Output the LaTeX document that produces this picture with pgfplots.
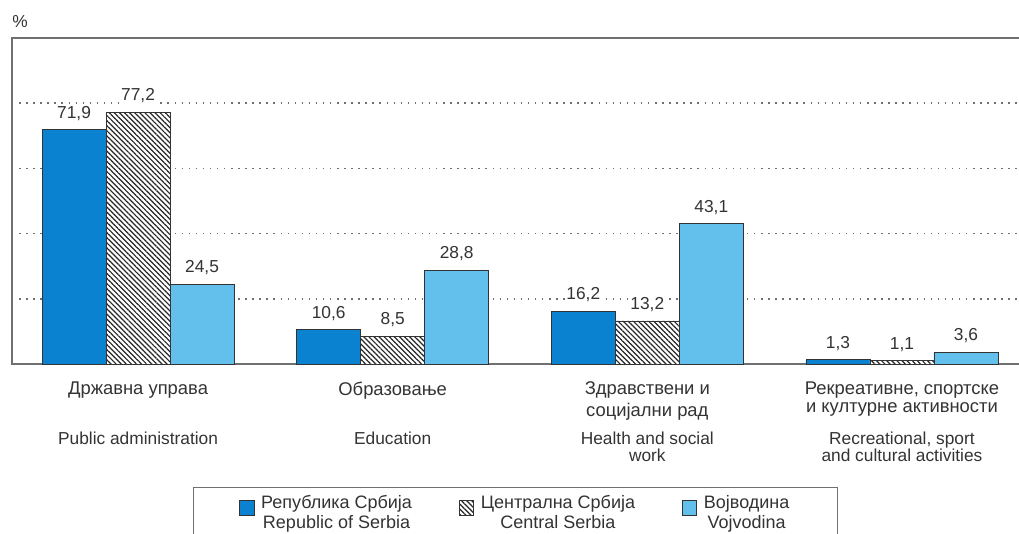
\documentclass[border=0pt]{standalone}
\usepackage{pgfplots}
\pgfplotsset{compat=1.18}
\usepackage{fontspec}
\setmainfont{Liberation Sans}
\usetikzlibrary{patterns.meta,calc}
\definecolor{rsblue}{HTML}{0A82CF}
\definecolor{vojblue}{HTML}{63BFEC}
\definecolor{txt}{HTML}{333333}
\definecolor{axgray}{HTML}{707070}

% 1px of the reference = 0.75pt
\begin{document}
\begin{tikzpicture}
\begin{axis}[
    name=ax,
    scale only axis,
    width=762pt, height=244.5pt,
    xmin=-0.495, xmax=3.495,
    ymin=0, ymax=100,
    clip=false,
    ybar=0pt, bar width=48pt,
    axis line style={axgray, line width=1.1pt},
    xtick={0,1,2,3},
    ytick={20,40,60,80}, yticklabels={},
    major tick length=0pt,
    ymajorgrids, grid style={axgray, line width=1.1pt, dash pattern=on 1.1pt off 4.2pt},
    /pgf/number format/assume math mode=true,
    font=\fontsize{13}{13.5}\selectfont,
    xticklabel style={anchor=north, inner sep=0pt, yshift=-13.4pt, align=center, text=txt,
        font=\fontsize{13.8}{13.5}\selectfont},
    xticklabels={{Државна управа}, {Образовање}, {Здравствени и\\[3pt]социјални рад}, {Рекреативне, спортске\\и културне активности}},
    extra x ticks={0,1,2,3},
    extra x tick labels={{Public administration}, {Education}, {Health and social\\work}, {Recreational, sport\\and cultural activities}},
    extra x tick style={xticklabel style={yshift=-37.1pt, font=\fontsize{13}{13}\selectfont}},
    nodes near coords={\pgfmathprintnumber[fixed, fixed zerofill, precision=1, use comma]{\pgfplotspointmeta}},
    every node near coord/.append style={anchor=base, yshift=8.5pt, text=txt, fill=white, inner sep=1pt,
        font=\fontsize{13}{13}\selectfont},
    legend style={at={(0.4956,-0.377)}, anchor=north, legend columns=3, draw=axgray, line width=0.8pt,
        font=\fontsize{13.5}{15}\selectfont, text=txt, cells={align=center},
        /tikz/every even column/.append style={column sep=33pt},
        /tikz/every odd column/.append style={column sep=3pt},
        inner xsep=34pt, inner ysep=4pt},
    legend image code/.code={\draw[#1, line width=0.6pt] (0pt,-1.5pt) rectangle (11pt,9.5pt);},
]
\addplot[draw=black!80, line width=0.7pt, fill=rsblue] coordinates {(0,71.9) (1,10.6) (2,16.2) (3,1.3)};
\addplot[draw=black!80, line width=0.7pt, fill=white,
    postaction={pattern={Lines[angle=-45, distance=2.7pt, line width=0.9pt]}, pattern color=black!85}]
    coordinates {(0,77.2) (1,8.5) (2,13.2) (3,1.1)};
\addplot[draw=black!80, line width=0.7pt, fill=vojblue] coordinates {(0,24.5) (1,28.8) (2,43.1) (3,3.6)};
\addlegendentry{Република Србија\\Republic of Serbia}
\addlegendentry{Централна Србија\\Central Serbia}
\addlegendentry{Војводина\\Vojvodina}
\node[anchor=base west, inner sep=0pt, text=txt, font=\fontsize{13}{13}\selectfont] at (rel axis cs:0,1) [yshift=8.25pt] {\%};
\end{axis}
\pgfresetboundingbox
\path[use as bounding box] ($(ax.south west)+(-9pt,-126.75pt)$) rectangle ($(ax.south west)+(755.25pt,273pt)$);
\end{tikzpicture}
\end{document}
